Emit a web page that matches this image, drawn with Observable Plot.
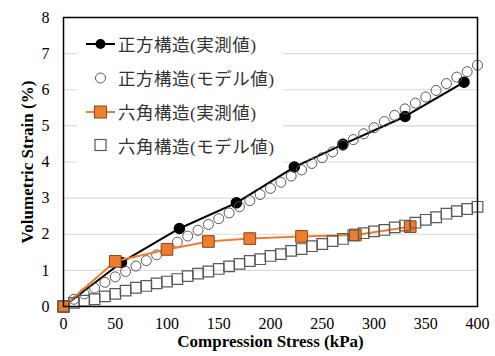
<!DOCTYPE html>
<html>
<head>
<meta charset="utf-8">
<script src="https://cdn.jsdelivr.net/npm/d3@7"></script>
<script src="https://cdn.jsdelivr.net/npm/@observablehq/plot@0.6"></script>
<style>
  html, body { margin: 0; padding: 0; background: #fff; }
  #wrap { position: relative; width: 495px; height: 356px; }
  #legend { position: absolute; left: 77px; top: 26px; width: 206px; height: 138px; background: #fff; }
  .row { position: absolute; left: 0; height: 24px; display: flex; align-items: center; }
  .row svg { width: 40px; height: 24px; flex: none; }
  .row span { font-family: 'Liberation Serif', 'Noto Sans CJK JP'; font-size: 17.5px; letter-spacing: 0.5px; color: #333; margin-left: 1px; white-space: nowrap; }
</style>
</head>
<body>
<div id="wrap"></div>
<script>
// Stress (kPa) and volumetric strain (%) values
const sqMeasX = [0, 56, 112, 167, 223, 270, 330, 387];
const sqMeasY = [0, 1.22, 2.16, 2.87, 3.86, 4.49, 5.26, 6.21];

const modelX = [0,10,20,30,40,50,60,70,80,90,100,110,120,130,140,150,160,170,180,190,200,210,220,230,240,250,260,270,280,290,300,310,320,330,340,350,360,370,380,390,400];
const sqModelY = [0,0.2,0.35,0.51,0.67,0.82,0.97,1.12,1.27,1.43,1.60,1.78,1.95,2.11,2.27,2.43,2.59,2.76,2.93,3.10,3.27,3.44,3.61,3.78,3.96,4.12,4.28,4.46,4.62,4.78,4.95,5.12,5.29,5.47,5.63,5.80,5.98,6.17,6.35,6.50,6.68];

const hexMeasX = [0, 50, 100, 140, 180, 230, 282, 335];
const hexMeasY = [0, 1.25, 1.58, 1.80, 1.88, 1.94, 1.98, 2.21];

const hexModelY = [0,0.1,0.16,0.2,0.28,0.35,0.44,0.52,0.57,0.64,0.69,0.76,0.84,0.91,0.97,1.04,1.11,1.18,1.26,1.31,1.40,1.45,1.54,1.59,1.67,1.73,1.81,1.87,1.97,2.03,2.08,2.12,2.19,2.24,2.32,2.40,2.47,2.57,2.64,2.70,2.76];

const xTicks = [0, 50, 100, 150, 200, 250, 300, 350, 400];
const yTicks = [0, 1, 2, 3, 4, 5, 6, 7, 8];
const seriesNames = ["正方構造(実測値)", "正方構造(モデル値)", "六角構造(実測値)", "六角構造(モデル値)"];
const xTitle = "Compression Stress (kPa)";
const yTitle = "Volumetric Strain (%)";

const zip = (xs, ys) => xs.map((x, i) => ({x, y: ys[i]}));
const sqMeas = zip(sqMeasX, sqMeasY);
const sqModel = zip(modelX, sqModelY);
const hexMeas = zip(hexMeasX, hexMeasY);
const hexModel = zip(modelX, hexModelY);

const ORANGE = "#ED7D31";
const ORANGE_EDGE = "#8a4a1c";
const GRAY = "#595959";
const SERIF = "Liberation Serif";

const chart = Plot.plot({
  width: 495,
  height: 356,
  marginLeft: 63,
  marginRight: 18,
  marginTop: 17,
  marginBottom: 50,
  x: {domain: [0, 400]},
  y: {domain: [0, 8]},
  style: {fontFamily: SERIF, fontSize: "16px", color: "#000", background: "#fff"},
  marks: [
    Plot.gridY(yTicks.filter(d => d > 0 && d < 8), {stroke: "#d9d9d9", strokeOpacity: 1, strokeWidth: 1.2}),
    Plot.axisX(xTicks, {tickSize: 0, tickPadding: 11, label: null, fill: "#000", fontSize: 16, fontFamily: SERIF}),
    Plot.axisY(yTicks, {tickSize: 0, tickPadding: 14, label: null, fill: "#000", fontSize: 16, fontFamily: SERIF}),
    Plot.line(sqMeas, {x: "x", y: "y", stroke: "#000", strokeWidth: 2}),
    Plot.dot(sqMeas, {x: "x", y: "y", r: 5, fill: "#000", stroke: "#000"}),
    Plot.dot(sqModel, {x: "x", y: "y", r: 5, fill: "none", stroke: GRAY, strokeWidth: 1}),
    Plot.line(hexMeas, {x: "x", y: "y", stroke: ORANGE, strokeWidth: 2}),
    Plot.dot(hexMeas, {x: "x", y: "y", symbol: "square", r: 6.6, fill: ORANGE, stroke: ORANGE_EDGE, strokeWidth: 1}),
    Plot.dot(hexModel, {x: "x", y: "y", symbol: "square", r: 6, fill: "none", stroke: GRAY, strokeWidth: 1.2}),
    Plot.frame({stroke: "#000", strokeWidth: 1.5}),
    Plot.text([xTitle], {text: d => d, frameAnchor: "bottom", dy: 40, textAnchor: "middle", fontWeight: "bold", fontSize: 17, fill: "#000", fontFamily: SERIF}),
    Plot.text([yTitle], {text: d => d, frameAnchor: "left", dx: -36, rotate: -90, textAnchor: "middle", lineAnchor: "middle", fontWeight: "bold", fontSize: 17, fill: "#000", fontFamily: SERIF})
  ]
});

const wrap = document.getElementById("wrap");
wrap.appendChild(chart);

// Legend overlay
const legend = document.createElement("div");
legend.id = "legend";
const symbols = [
  `<line x1="9" x2="38" y1="12" y2="12" stroke="#000" stroke-width="2"/><circle cx="23.5" cy="12" r="5" fill="#000"/>`,
  `<circle cx="23.5" cy="12" r="5" fill="none" stroke="${GRAY}" stroke-width="1"/>`,
  `<line x1="9" x2="38" y1="12" y2="12" stroke="${ORANGE}" stroke-width="2"/><rect x="17.5" y="6" width="12" height="12" fill="${ORANGE}" stroke="${ORANGE_EDGE}" stroke-width="1"/>`,
  `<rect x="18" y="6.5" width="11" height="11" fill="none" stroke="${GRAY}" stroke-width="1.2"/>`
];
const rowTops = [5.5, 39.5, 73.5, 107];
seriesNames.forEach((name, i) => {
  const row = document.createElement("div");
  row.className = "row";
  row.style.top = rowTops[i] + "px";
  row.innerHTML = `<svg viewBox="0 0 40 24">${symbols[i]}</svg><span>${name}</span>`;
  legend.appendChild(row);
});
wrap.appendChild(legend);
</script>
</body>
</html>
